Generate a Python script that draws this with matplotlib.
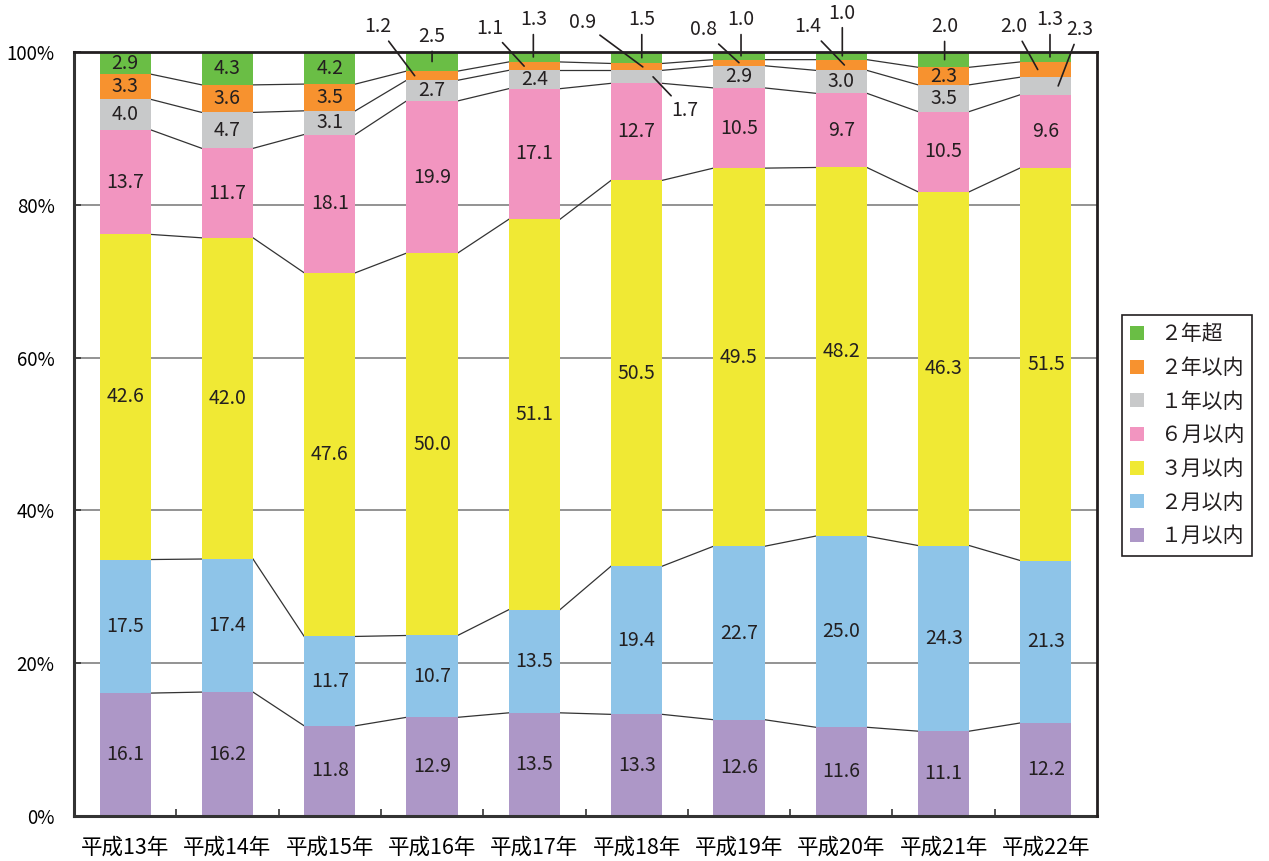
# -*- coding: utf-8 -*-
"""Stacked 100% bar chart of duration categories, 平成13年 - 平成22年."""

import matplotlib
matplotlib.use("Agg")
import matplotlib.pyplot as plt
from matplotlib.patches import Patch
import numpy as np


# =============================================================================
# Data
# =============================================================================

YEARS = ["平成13年", "平成14年", "平成15年", "平成16年", "平成17年",
         "平成18年", "平成19年", "平成20年", "平成21年", "平成22年"]

# Bottom to top of each bar
SERIES = ["１月以内", "２月以内", "３月以内", "６月以内", "１年以内", "２年以内", "２年超"]

M1 = [16.1, 16.2, 11.8, 12.9, 13.5, 13.3, 12.6, 11.6, 11.1, 12.2]
M2 = [17.5, 17.4, 11.7, 10.7, 13.5, 19.4, 22.7, 25.0, 24.3, 21.3]
M3 = [42.6, 42.0, 47.6, 50.0, 51.1, 50.5, 49.5, 48.2, 46.3, 51.5]
M6 = [13.7, 11.7, 18.1, 19.9, 17.1, 12.7, 10.5, 9.7, 10.5, 9.6]
Y1 = [4.0, 4.7, 3.1, 2.7, 2.4, 1.7, 2.9, 3.0, 3.5, 2.3]
Y2 = [3.3, 3.6, 3.5, 1.2, 1.1, 0.9, 0.8, 1.4, 2.3, 2.0]
Y2_OVER = [2.9, 4.3, 4.2, 2.5, 1.3, 1.5, 1.0, 1.0, 2.0, 1.3]

COLORS = ["#ad97c7", "#8ec4e8", "#f0e934", "#f295c0", "#c8c9ca", "#f7922f", "#6abe45"]

# Small segments labelled outside the bar:
# (year index, series index, text x offset, text y, leader x offset)
CALLOUTS = [
    (3, 5, -0.53, 103.3, -0.17),
    (3, 6, 0.00, 102.0, 0.00),
    (4, 5, -0.44, 103.1, -0.10),
    (4, 6, -0.01, 104.2, -0.01),
    (5, 5, -0.53, 103.9, 0.06),
    (5, 6, 0.05, 104.2, 0.05),
    (5, 4, 0.47, 92.4, 0.16),
    (6, 5, -0.35, 102.9, 0.00),
    (6, 6, 0.02, 104.2, 0.02),
    (7, 5, -0.33, 103.3, 0.03),
    (7, 6, 0.01, 105.1, 0.01),
    (8, 6, 0.01, 103.3, 0.01),
    (9, 5, -0.31, 103.3, -0.08),
    (9, 6, 0.04, 104.2, 0.04),
    (9, 4, 0.33, 102.9, 0.12),
]


def main():
    plt.rcParams.update({
        "font.family": ["Noto Sans CJK JP", "DejaVu Sans"],
        "font.size": 14,
        "text.color": "#231f20",
    })

    values = np.array([M1, M2, M3, M6, Y1, Y2, Y2_OVER])
    # scale each year to exactly 100%
    shares = values / values.sum(axis=0) * 100.0
    tops = np.cumsum(shares, axis=0)
    bottoms = tops - shares

    n = len(YEARS)
    x = np.arange(n)
    width = 0.5

    fig = plt.figure(figsize=(12.69, 8.61), dpi=100)
    ax = fig.add_axes([0.0583, 0.0523, 0.8062, 0.8873])

    for y in (20, 40, 60, 80):
        ax.axhline(y, color="#8a8a8a", linewidth=1.3, zorder=0)

    for k, name in enumerate(SERIES):
        ax.bar(x, shares[k], width, bottom=bottoms[k], color=COLORS[k],
               label=name, zorder=2, linewidth=0)

    # connector lines between neighbouring bars
    for k in range(len(SERIES) - 1):
        for i in range(n - 1):
            ax.plot([x[i] + width / 2, x[i + 1] - width / 2],
                    [tops[k, i], tops[k, i + 1]],
                    color="#333333", linewidth=0.9, zorder=1)

    outside = {(c[0], c[1]) for c in CALLOUTS}
    for k in range(len(SERIES)):
        for i in range(n):
            if (i, k) in outside:
                continue
            ax.text(x[i], bottoms[k, i] + shares[k, i] / 2, f"{values[k, i]:.1f}",
                    ha="center", va="center", fontsize=14, zorder=3)

    for i, k, dx, ty, lx in CALLOUTS:
        mid = bottoms[k, i] + shares[k, i] / 2
        ax.annotate(f"{values[k, i]:.1f}", xy=(x[i] + lx, mid),
                    xytext=(x[i] + dx, ty), textcoords="data",
                    ha="center", va="center", fontsize=14,
                    annotation_clip=False, zorder=4,
                    arrowprops=dict(arrowstyle="-", color="#231f20",
                                    linewidth=1.2, shrinkA=1, shrinkB=0))

    ax.set_xlim(-0.5, n - 0.5)
    ax.set_ylim(0, 100)
    ax.set_yticks(np.arange(0, 101, 20))
    ax.set_yticklabels([f"{v}%" for v in range(0, 101, 20)])
    ax.tick_params(axis="y", direction="in", length=5, width=1.2, pad=14,
                   labelsize=13.5, color="#333333")

    ax.set_xticks(x)
    ax.set_xticklabels(YEARS)
    ax.set_xticks(np.arange(0.5, n - 1, 1.0), minor=True)
    ax.tick_params(axis="x", which="major", length=0, pad=15, labelsize=15.5)
    ax.tick_params(axis="x", which="minor", direction="in", length=5,
                   width=1.2, color="#333333")

    for side in ("left", "bottom"):
        ax.spines[side].set_linewidth(2.2)
        ax.spines[side].set_color("#333333")
    for side in ("top", "right"):
        ax.spines[side].set_linewidth(2.0)
        ax.spines[side].set_color("#231f20")
        ax.spines[side].set_zorder(5)

    handles = [Patch(facecolor=COLORS[k], edgecolor="none", label=SERIES[k])
               for k in reversed(range(len(SERIES)))]
    leg = fig.legend(handles=handles, loc="upper left",
                     bbox_to_anchor=(1122 / 1269, 1 - 315 / 861),
                     borderaxespad=0, fancybox=False, framealpha=1,
                     edgecolor="#231f20", fontsize=15, labelspacing=0.56,
                     handlelength=0.65, handleheight=0.65, handletextpad=0.8,
                     borderpad=0.4)
    leg.get_frame().set_linewidth(1.2)

    fig.savefig("out.png", dpi=100)
    plt.close(fig)


if __name__ == "__main__":
    main()
